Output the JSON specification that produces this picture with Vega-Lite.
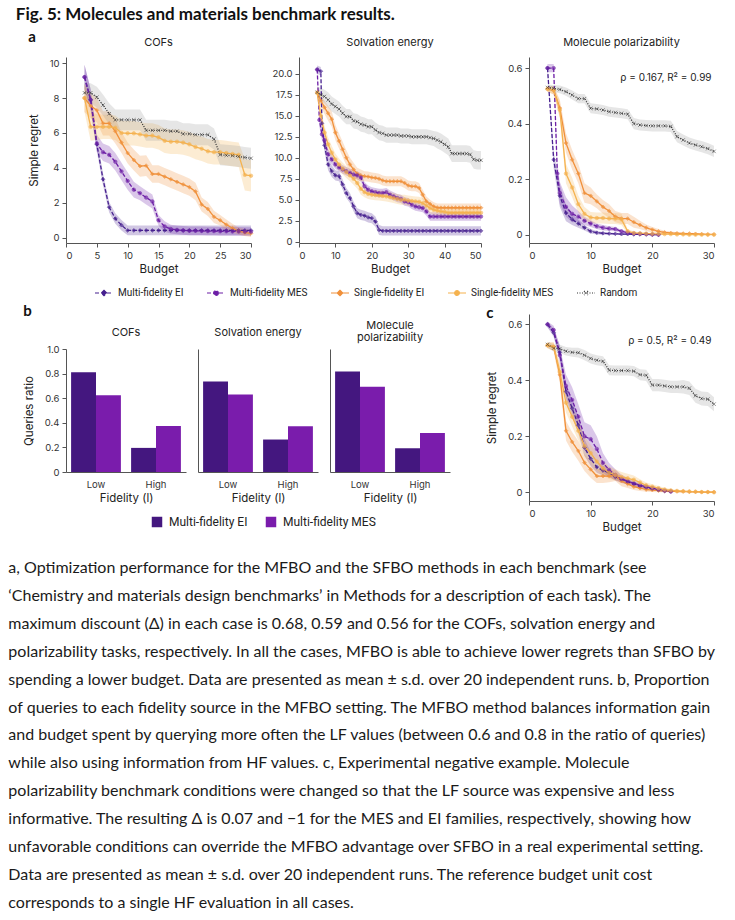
{
"$schema": "https://vega.github.io/schema/vega-lite/v6.json",
"background": "white",
"padding": {"left": 8, "top": 6, "right": 5, "bottom": 4},
"title": {"text": [
"a, Optimization performance for the MFBO and the SFBO methods in each benchmark (see",
"‘Chemistry and materials design benchmarks’ in Methods for a description of each task). The",
"maximum discount (Δ) in each case is 0.68, 0.59 and 0.56 for the COFs, solvation energy and",
"polarizability tasks, respectively. In all the cases, MFBO is able to achieve lower regrets than SFBO by",
"spending a lower budget. Data are presented as mean ± s.d. over 20 independent runs. b, Proportion",
"of queries to each fidelity source in the MFBO setting. The MFBO method balances information gain",
"and budget spent by querying more often the LF values (between 0.6 and 0.8 in the ratio of queries)",
"while also using information from HF values. c, Experimental negative example. Molecule",
"polarizability benchmark conditions were changed so that the LF source was expensive and less",
"informative. The resulting Δ is 0.07 and −1 for the MES and EI families, respectively, showing how",
"unfavorable conditions can override the MFBO advantage over SFBO in a real experimental setting.",
"Data are presented as mean ± s.d. over 20 independent runs. The reference budget unit cost",
"corresponds to a single HF evaluation in all cases."],
"orient": "bottom", "anchor": "start", "dx": -7.5, "offset": 27, "font": "Lato", "fontSize": 16, "fontWeight": "normal", "lineHeight": 27.9, "color": "#1a1a1a"},
"datasets": {
"cofs": [
{"m":"MFEI","x":3,"y":9.2,"e":0.7},{"m":"MFEI","x":4,"y":7.9,"e":0.6},{"m":"MFEI","x":5,"y":5.35,"e":0.4},{"m":"MFEI","x":6,"y":3.35,"e":0.35},{"m":"MFEI","x":7,"y":1.75,"e":0.3},{"m":"MFEI","x":8,"y":1.1,"e":0.3},{"m":"MFEI","x":9,"y":0.72,"e":0.3},{"m":"MFEI","x":10,"y":0.42,"e":0.28},{"m":"MFEI","x":11,"y":0.42,"e":0.28},{"m":"MFEI","x":12,"y":0.42,"e":0.28},{"m":"MFEI","x":13,"y":0.42,"e":0.28},{"m":"MFEI","x":14,"y":0.42,"e":0.28},{"m":"MFEI","x":15,"y":0.42,"e":0.28},{"m":"MFEI","x":16,"y":0.42,"e":0.28},{"m":"MFEI","x":17,"y":0.42,"e":0.28},{"m":"MFEI","x":18,"y":0.42,"e":0.28},{"m":"MFEI","x":19,"y":0.42,"e":0.28},{"m":"MFEI","x":20,"y":0.42,"e":0.28},{"m":"MFEI","x":21,"y":0.42,"e":0.28},{"m":"MFEI","x":22,"y":0.42,"e":0.28},{"m":"MFEI","x":23,"y":0.42,"e":0.28},{"m":"MFEI","x":24,"y":0.42,"e":0.28},{"m":"MFEI","x":25,"y":0.42,"e":0.28},{"m":"MFEI","x":26,"y":0.42,"e":0.28},{"m":"MFEI","x":27,"y":0.42,"e":0.28},{"m":"MFEI","x":28,"y":0.42,"e":0.28},{"m":"MFEI","x":29,"y":0.42,"e":0.28},{"m":"MFEI","x":30,"y":0.42,"e":0.28},
{"m":"MFMES","x":3,"y":9.2,"e":0.7},{"m":"MFMES","x":4,"y":7.9,"e":0.6},{"m":"MFMES","x":5,"y":5.4,"e":0.5},{"m":"MFMES","x":6,"y":4.9,"e":0.5},{"m":"MFMES","x":7,"y":4.75,"e":0.5},{"m":"MFMES","x":8,"y":4.35,"e":0.5},{"m":"MFMES","x":9,"y":3.8,"e":0.5},{"m":"MFMES","x":10,"y":3.25,"e":0.5},{"m":"MFMES","x":11,"y":2.75,"e":0.45},{"m":"MFMES","x":12,"y":2.55,"e":0.4},{"m":"MFMES","x":13,"y":2.3,"e":0.4},{"m":"MFMES","x":14,"y":2.08,"e":0.4},{"m":"MFMES","x":15,"y":1.0,"e":0.3},{"m":"MFMES","x":16,"y":0.65,"e":0.3},{"m":"MFMES","x":17,"y":0.5,"e":0.25},{"m":"MFMES","x":18,"y":0.45,"e":0.25},{"m":"MFMES","x":19,"y":0.42,"e":0.25},{"m":"MFMES","x":20,"y":0.4,"e":0.25},{"m":"MFMES","x":21,"y":0.4,"e":0.25},{"m":"MFMES","x":22,"y":0.39,"e":0.25},{"m":"MFMES","x":23,"y":0.38,"e":0.25},{"m":"MFMES","x":24,"y":0.38,"e":0.25},{"m":"MFMES","x":25,"y":0.37,"e":0.25},{"m":"MFMES","x":26,"y":0.37,"e":0.25},{"m":"MFMES","x":27,"y":0.36,"e":0.25},{"m":"MFMES","x":28,"y":0.36,"e":0.25},{"m":"MFMES","x":29,"y":0.35,"e":0.25},{"m":"MFMES","x":30,"y":0.35,"e":0.25},
{"m":"SFEI","x":3,"y":8.0,"e":0.8},{"m":"SFEI","x":4,"y":7.55,"e":0.7},{"m":"SFEI","x":5,"y":7.3,"e":0.7},{"m":"SFEI","x":6,"y":6.55,"e":0.7},{"m":"SFEI","x":7,"y":6.55,"e":0.7},{"m":"SFEI","x":8,"y":6.1,"e":0.7},{"m":"SFEI","x":9,"y":5.45,"e":0.6},{"m":"SFEI","x":10,"y":4.85,"e":0.6},{"m":"SFEI","x":11,"y":4.45,"e":0.6},{"m":"SFEI","x":12,"y":4.1,"e":0.6},{"m":"SFEI","x":13,"y":4.13,"e":0.6},{"m":"SFEI","x":14,"y":3.65,"e":0.5},{"m":"SFEI","x":15,"y":3.65,"e":0.5},{"m":"SFEI","x":16,"y":3.5,"e":0.5},{"m":"SFEI","x":17,"y":3.35,"e":0.5},{"m":"SFEI","x":18,"y":3.2,"e":0.5},{"m":"SFEI","x":19,"y":3.05,"e":0.5},{"m":"SFEI","x":20,"y":2.9,"e":0.5},{"m":"SFEI","x":21,"y":2.65,"e":0.5},{"m":"SFEI","x":22,"y":1.9,"e":0.4},{"m":"SFEI","x":23,"y":1.65,"e":0.4},{"m":"SFEI","x":24,"y":1.2,"e":0.35},{"m":"SFEI","x":25,"y":1.0,"e":0.3},{"m":"SFEI","x":26,"y":0.75,"e":0.3},{"m":"SFEI","x":27,"y":0.55,"e":0.25},{"m":"SFEI","x":28,"y":0.38,"e":0.2},{"m":"SFEI","x":29,"y":0.3,"e":0.2},{"m":"SFEI","x":30,"y":0.25,"e":0.2},
{"m":"SFMES","x":3,"y":8.0,"e":0.8},{"m":"SFMES","x":4,"y":6.35,"e":0.8},{"m":"SFMES","x":5,"y":6.35,"e":0.75},{"m":"SFMES","x":6,"y":6.35,"e":0.7},{"m":"SFMES","x":7,"y":6.35,"e":0.7},{"m":"SFMES","x":8,"y":6.3,"e":0.7},{"m":"SFMES","x":9,"y":6.0,"e":0.7},{"m":"SFMES","x":10,"y":5.98,"e":0.7},{"m":"SFMES","x":11,"y":5.98,"e":0.7},{"m":"SFMES","x":12,"y":5.92,"e":0.7},{"m":"SFMES","x":13,"y":5.85,"e":0.7},{"m":"SFMES","x":14,"y":5.85,"e":0.7},{"m":"SFMES","x":15,"y":5.75,"e":0.7},{"m":"SFMES","x":16,"y":5.55,"e":0.7},{"m":"SFMES","x":17,"y":5.5,"e":0.7},{"m":"SFMES","x":18,"y":5.5,"e":0.7},{"m":"SFMES","x":19,"y":5.45,"e":0.7},{"m":"SFMES","x":20,"y":5.35,"e":0.7},{"m":"SFMES","x":21,"y":5.2,"e":0.7},{"m":"SFMES","x":22,"y":5.1,"e":0.7},{"m":"SFMES","x":23,"y":4.95,"e":0.7},{"m":"SFMES","x":24,"y":4.9,"e":0.7},{"m":"SFMES","x":25,"y":4.9,"e":0.7},{"m":"SFMES","x":26,"y":4.85,"e":0.7},{"m":"SFMES","x":27,"y":4.8,"e":0.7},{"m":"SFMES","x":28,"y":4.75,"e":0.7},{"m":"SFMES","x":29,"y":3.6,"e":0.9},{"m":"SFMES","x":30,"y":3.55,"e":0.9},
{"m":"RND","x":3,"y":8.3,"e":0.55},{"m":"RND","x":4,"y":8.3,"e":0.55},{"m":"RND","x":5,"y":8.05,"e":0.6},{"m":"RND","x":6,"y":7.6,"e":0.6},{"m":"RND","x":7,"y":7.1,"e":0.6},{"m":"RND","x":8,"y":6.75,"e":0.6},{"m":"RND","x":9,"y":6.75,"e":0.6},{"m":"RND","x":10,"y":6.75,"e":0.6},{"m":"RND","x":11,"y":6.75,"e":0.6},{"m":"RND","x":12,"y":6.75,"e":0.6},{"m":"RND","x":13,"y":6.15,"e":0.6},{"m":"RND","x":14,"y":6.15,"e":0.6},{"m":"RND","x":15,"y":6.15,"e":0.6},{"m":"RND","x":16,"y":6.15,"e":0.6},{"m":"RND","x":17,"y":6.1,"e":0.6},{"m":"RND","x":18,"y":6.1,"e":0.6},{"m":"RND","x":19,"y":5.95,"e":0.6},{"m":"RND","x":20,"y":5.95,"e":0.6},{"m":"RND","x":21,"y":5.9,"e":0.6},{"m":"RND","x":22,"y":5.9,"e":0.6},{"m":"RND","x":23,"y":5.9,"e":0.6},{"m":"RND","x":24,"y":5.65,"e":0.6},{"m":"RND","x":25,"y":4.75,"e":0.6},{"m":"RND","x":26,"y":4.72,"e":0.6},{"m":"RND","x":27,"y":4.7,"e":0.6},{"m":"RND","x":28,"y":4.65,"e":0.6},{"m":"RND","x":29,"y":4.6,"e":0.6},{"m":"RND","x":30,"y":4.55,"e":0.6}
],
"solv": [
{"m":"MFEI","x":5,"y":20.5,"e":0.5},{"m":"MFEI","x":6,"y":20.3,"e":0.5},{"m":"MFEI","x":6.3,"y":14.1,"e":0.8},{"m":"MFEI","x":7,"y":11.5,"e":0.8},{"m":"MFEI","x":8,"y":9.2,"e":0.7},{"m":"MFEI","x":9,"y":8.4,"e":0.7},{"m":"MFEI","x":10,"y":7.9,"e":0.6},{"m":"MFEI","x":11,"y":7.8,"e":0.6},{"m":"MFEI","x":12,"y":6.8,"e":0.6},{"m":"MFEI","x":13,"y":5.8,"e":0.6},{"m":"MFEI","x":14,"y":5.2,"e":0.6},{"m":"MFEI","x":15,"y":4.2,"e":0.6},{"m":"MFEI","x":16,"y":3.4,"e":0.6},{"m":"MFEI","x":17,"y":3.2,"e":0.6},{"m":"MFEI","x":18,"y":3.1,"e":0.6},{"m":"MFEI","x":19,"y":2.9,"e":0.6},{"m":"MFEI","x":20,"y":2.8,"e":0.6},{"m":"MFEI","x":21,"y":2.4,"e":0.6},{"m":"MFEI","x":22,"y":1.4,"e":0.6},{"m":"MFEI","x":23,"y":1.3,"e":0.55},{"m":"MFEI","x":24,"y":1.3,"e":0.55},{"m":"MFEI","x":25,"y":1.3,"e":0.55},{"m":"MFEI","x":26,"y":1.3,"e":0.55},{"m":"MFEI","x":27,"y":1.3,"e":0.55},{"m":"MFEI","x":28,"y":1.3,"e":0.55},{"m":"MFEI","x":29,"y":1.3,"e":0.55},{"m":"MFEI","x":30,"y":1.3,"e":0.55},{"m":"MFEI","x":31,"y":1.3,"e":0.55},{"m":"MFEI","x":32,"y":1.3,"e":0.55},{"m":"MFEI","x":33,"y":1.3,"e":0.55},{"m":"MFEI","x":34,"y":1.3,"e":0.55},{"m":"MFEI","x":35,"y":1.3,"e":0.55},{"m":"MFEI","x":36,"y":1.3,"e":0.55},{"m":"MFEI","x":37,"y":1.3,"e":0.55},{"m":"MFEI","x":38,"y":1.3,"e":0.55},{"m":"MFEI","x":39,"y":1.3,"e":0.55},{"m":"MFEI","x":40,"y":1.3,"e":0.55},{"m":"MFEI","x":41,"y":1.3,"e":0.55},{"m":"MFEI","x":42,"y":1.3,"e":0.55},{"m":"MFEI","x":43,"y":1.3,"e":0.55},{"m":"MFEI","x":44,"y":1.3,"e":0.55},{"m":"MFEI","x":45,"y":1.3,"e":0.55},{"m":"MFEI","x":46,"y":1.3,"e":0.55},{"m":"MFEI","x":47,"y":1.3,"e":0.55},{"m":"MFEI","x":48,"y":1.3,"e":0.55},{"m":"MFEI","x":49,"y":1.3,"e":0.55},{"m":"MFEI","x":50,"y":1.3,"e":0.55},
{"m":"MFMES","x":5,"y":20.5,"e":0.5},{"m":"MFMES","x":5.6,"y":14.5,"e":0.8},{"m":"MFMES","x":6.3,"y":12.8,"e":0.7},{"m":"MFMES","x":7,"y":12.1,"e":0.6},{"m":"MFMES","x":8,"y":10.4,"e":0.6},{"m":"MFMES","x":9,"y":9.8,"e":0.6},{"m":"MFMES","x":10,"y":9.2,"e":0.5},{"m":"MFMES","x":11,"y":8.85,"e":0.5},{"m":"MFMES","x":12,"y":8.6,"e":0.5},{"m":"MFMES","x":13,"y":8.4,"e":0.5},{"m":"MFMES","x":14,"y":8.2,"e":0.5},{"m":"MFMES","x":15,"y":8.0,"e":0.5},{"m":"MFMES","x":16,"y":7.9,"e":0.5},{"m":"MFMES","x":17,"y":7.65,"e":0.5},{"m":"MFMES","x":18,"y":6.6,"e":0.5},{"m":"MFMES","x":19,"y":6.2,"e":0.5},{"m":"MFMES","x":20,"y":6.0,"e":0.5},{"m":"MFMES","x":21,"y":5.9,"e":0.5},{"m":"MFMES","x":22,"y":5.8,"e":0.5},{"m":"MFMES","x":23,"y":5.8,"e":0.5},{"m":"MFMES","x":24,"y":5.9,"e":0.5},{"m":"MFMES","x":25,"y":5.6,"e":0.5},{"m":"MFMES","x":26,"y":5.4,"e":0.5},{"m":"MFMES","x":27,"y":5.2,"e":0.5},{"m":"MFMES","x":28,"y":5.1,"e":0.5},{"m":"MFMES","x":29,"y":4.8,"e":0.5},{"m":"MFMES","x":30,"y":4.7,"e":0.5},{"m":"MFMES","x":31,"y":4.4,"e":0.5},{"m":"MFMES","x":32,"y":4.2,"e":0.5},{"m":"MFMES","x":33,"y":4.1,"e":0.5},{"m":"MFMES","x":34,"y":4.0,"e":0.5},{"m":"MFMES","x":35,"y":3.6,"e":0.5},{"m":"MFMES","x":36,"y":3.0,"e":0.5},{"m":"MFMES","x":37,"y":3.0,"e":0.5},{"m":"MFMES","x":38,"y":3.0,"e":0.5},{"m":"MFMES","x":39,"y":3.0,"e":0.5},{"m":"MFMES","x":40,"y":3.0,"e":0.5},{"m":"MFMES","x":41,"y":3.0,"e":0.5},{"m":"MFMES","x":42,"y":3.0,"e":0.5},{"m":"MFMES","x":43,"y":3.0,"e":0.5},{"m":"MFMES","x":44,"y":3.0,"e":0.5},{"m":"MFMES","x":45,"y":3.0,"e":0.5},{"m":"MFMES","x":46,"y":3.0,"e":0.5},{"m":"MFMES","x":47,"y":3.0,"e":0.5},{"m":"MFMES","x":48,"y":3.0,"e":0.5},{"m":"MFMES","x":49,"y":3.0,"e":0.5},{"m":"MFMES","x":50,"y":3.0,"e":0.5},
{"m":"SFEI","x":5,"y":17.8,"e":0.6},{"m":"SFEI","x":6,"y":16.8,"e":0.7},{"m":"SFEI","x":7,"y":16.0,"e":0.8},{"m":"SFEI","x":8,"y":15.3,"e":0.9},{"m":"SFEI","x":9,"y":14.6,"e":0.9},{"m":"SFEI","x":10,"y":13.0,"e":0.9},{"m":"SFEI","x":11,"y":12.0,"e":0.9},{"m":"SFEI","x":12,"y":11.0,"e":0.9},{"m":"SFEI","x":13,"y":10.0,"e":0.9},{"m":"SFEI","x":14,"y":9.2,"e":0.8},{"m":"SFEI","x":15,"y":8.6,"e":0.8},{"m":"SFEI","x":16,"y":8.1,"e":0.7},{"m":"SFEI","x":17,"y":7.9,"e":0.7},{"m":"SFEI","x":18,"y":7.8,"e":0.6},{"m":"SFEI","x":19,"y":7.75,"e":0.6},{"m":"SFEI","x":20,"y":7.65,"e":0.6},{"m":"SFEI","x":21,"y":7.6,"e":0.6},{"m":"SFEI","x":22,"y":7.5,"e":0.6},{"m":"SFEI","x":23,"y":7.3,"e":0.6},{"m":"SFEI","x":24,"y":7.2,"e":0.6},{"m":"SFEI","x":25,"y":7.2,"e":0.6},{"m":"SFEI","x":26,"y":7.2,"e":0.6},{"m":"SFEI","x":27,"y":7.2,"e":0.6},{"m":"SFEI","x":28,"y":7.2,"e":0.6},{"m":"SFEI","x":29,"y":7.0,"e":0.6},{"m":"SFEI","x":30,"y":6.7,"e":0.6},{"m":"SFEI","x":31,"y":6.6,"e":0.6},{"m":"SFEI","x":32,"y":6.6,"e":0.6},{"m":"SFEI","x":33,"y":6.4,"e":0.6},{"m":"SFEI","x":34,"y":5.6,"e":0.6},{"m":"SFEI","x":35,"y":4.8,"e":0.6},{"m":"SFEI","x":36,"y":4.5,"e":0.5},{"m":"SFEI","x":37,"y":4.2,"e":0.5},{"m":"SFEI","x":38,"y":4.05,"e":0.5},{"m":"SFEI","x":39,"y":4.05,"e":0.5},{"m":"SFEI","x":40,"y":4.05,"e":0.5},{"m":"SFEI","x":41,"y":4.05,"e":0.5},{"m":"SFEI","x":42,"y":4.05,"e":0.5},{"m":"SFEI","x":43,"y":4.05,"e":0.5},{"m":"SFEI","x":44,"y":4.05,"e":0.5},{"m":"SFEI","x":45,"y":4.05,"e":0.5},{"m":"SFEI","x":46,"y":4.05,"e":0.5},{"m":"SFEI","x":47,"y":4.05,"e":0.5},{"m":"SFEI","x":48,"y":4.05,"e":0.5},{"m":"SFEI","x":49,"y":4.05,"e":0.5},{"m":"SFEI","x":50,"y":4.05,"e":0.5},
{"m":"SFMES","x":5,"y":17.7,"e":0.6},{"m":"SFMES","x":6,"y":15.0,"e":0.8},{"m":"SFMES","x":7,"y":13.0,"e":0.8},{"m":"SFMES","x":8,"y":11.6,"e":0.8},{"m":"SFMES","x":9,"y":10.6,"e":0.8},{"m":"SFMES","x":10,"y":9.8,"e":0.7},{"m":"SFMES","x":11,"y":9.2,"e":0.7},{"m":"SFMES","x":12,"y":8.7,"e":0.7},{"m":"SFMES","x":13,"y":8.3,"e":0.7},{"m":"SFMES","x":14,"y":7.9,"e":0.7},{"m":"SFMES","x":15,"y":7.5,"e":0.7},{"m":"SFMES","x":16,"y":7.0,"e":0.7},{"m":"SFMES","x":17,"y":6.3,"e":0.7},{"m":"SFMES","x":18,"y":5.9,"e":0.6},{"m":"SFMES","x":19,"y":5.7,"e":0.6},{"m":"SFMES","x":20,"y":5.6,"e":0.6},{"m":"SFMES","x":21,"y":5.55,"e":0.6},{"m":"SFMES","x":22,"y":5.5,"e":0.6},{"m":"SFMES","x":23,"y":5.45,"e":0.6},{"m":"SFMES","x":24,"y":5.4,"e":0.6},{"m":"SFMES","x":25,"y":5.3,"e":0.6},{"m":"SFMES","x":26,"y":5.2,"e":0.6},{"m":"SFMES","x":27,"y":5.1,"e":0.6},{"m":"SFMES","x":28,"y":5.0,"e":0.6},{"m":"SFMES","x":29,"y":5.0,"e":0.6},{"m":"SFMES","x":30,"y":4.9,"e":0.6},{"m":"SFMES","x":31,"y":4.85,"e":0.6},{"m":"SFMES","x":32,"y":4.8,"e":0.6},{"m":"SFMES","x":33,"y":4.75,"e":0.6},{"m":"SFMES","x":34,"y":4.6,"e":0.6},{"m":"SFMES","x":35,"y":4.3,"e":0.6},{"m":"SFMES","x":36,"y":4.0,"e":0.6},{"m":"SFMES","x":37,"y":3.8,"e":0.6},{"m":"SFMES","x":38,"y":3.7,"e":0.6},{"m":"SFMES","x":39,"y":3.6,"e":0.6},{"m":"SFMES","x":40,"y":3.55,"e":0.6},{"m":"SFMES","x":41,"y":3.45,"e":0.6},{"m":"SFMES","x":42,"y":3.45,"e":0.6},{"m":"SFMES","x":43,"y":3.45,"e":0.6},{"m":"SFMES","x":44,"y":3.45,"e":0.6},{"m":"SFMES","x":45,"y":3.45,"e":0.6},{"m":"SFMES","x":46,"y":3.45,"e":0.6},{"m":"SFMES","x":47,"y":3.45,"e":0.6},{"m":"SFMES","x":48,"y":3.45,"e":0.6},{"m":"SFMES","x":49,"y":3.45,"e":0.6},{"m":"SFMES","x":50,"y":3.45,"e":0.6},
{"m":"RND","x":5,"y":17.8,"e":0.7},{"m":"RND","x":6,"y":17.5,"e":0.8},{"m":"RND","x":7,"y":17.3,"e":0.8},{"m":"RND","x":8,"y":16.9,"e":0.9},{"m":"RND","x":9,"y":16.4,"e":0.9},{"m":"RND","x":10,"y":16.1,"e":0.9},{"m":"RND","x":11,"y":15.8,"e":0.9},{"m":"RND","x":12,"y":15.3,"e":0.9},{"m":"RND","x":13,"y":14.9,"e":0.9},{"m":"RND","x":14,"y":14.9,"e":0.9},{"m":"RND","x":15,"y":14.4,"e":0.9},{"m":"RND","x":16,"y":14.3,"e":0.9},{"m":"RND","x":17,"y":14.0,"e":0.9},{"m":"RND","x":18,"y":13.9,"e":0.9},{"m":"RND","x":19,"y":13.7,"e":0.9},{"m":"RND","x":20,"y":13.7,"e":0.9},{"m":"RND","x":21,"y":13.3,"e":0.9},{"m":"RND","x":22,"y":13.0,"e":0.9},{"m":"RND","x":23,"y":12.9,"e":0.9},{"m":"RND","x":24,"y":12.7,"e":0.9},{"m":"RND","x":25,"y":12.7,"e":0.9},{"m":"RND","x":26,"y":12.7,"e":0.9},{"m":"RND","x":27,"y":12.7,"e":0.9},{"m":"RND","x":28,"y":12.6,"e":0.9},{"m":"RND","x":29,"y":12.6,"e":0.9},{"m":"RND","x":30,"y":12.6,"e":0.9},{"m":"RND","x":31,"y":12.5,"e":0.9},{"m":"RND","x":32,"y":12.5,"e":0.9},{"m":"RND","x":33,"y":12.5,"e":0.9},{"m":"RND","x":34,"y":12.5,"e":0.9},{"m":"RND","x":35,"y":12.5,"e":0.9},{"m":"RND","x":36,"y":12.4,"e":0.9},{"m":"RND","x":37,"y":12.3,"e":0.9},{"m":"RND","x":38,"y":12.1,"e":1.0},{"m":"RND","x":39,"y":11.9,"e":1.0},{"m":"RND","x":40,"y":11.6,"e":1.0},{"m":"RND","x":41,"y":11.3,"e":1.0},{"m":"RND","x":42,"y":10.5,"e":1.0},{"m":"RND","x":43,"y":10.5,"e":1.0},{"m":"RND","x":44,"y":10.5,"e":1.0},{"m":"RND","x":45,"y":10.5,"e":1.0},{"m":"RND","x":46,"y":10.5,"e":1.0},{"m":"RND","x":47,"y":10.4,"e":1.0},{"m":"RND","x":48,"y":9.8,"e":1.1},{"m":"RND","x":49,"y":9.7,"e":1.1},{"m":"RND","x":50,"y":9.7,"e":1.1}
],
"polar": [
{"m":"MFEI","x":3,"y":0.6,"e":0.015},{"m":"MFEI","x":4,"y":0.27,"e":0.03},{"m":"MFEI","x":5,"y":0.14,"e":0.04},{"m":"MFEI","x":6,"y":0.078,"e":0.03},{"m":"MFEI","x":7,"y":0.055,"e":0.02},{"m":"MFEI","x":8,"y":0.04,"e":0.015},{"m":"MFEI","x":9,"y":0.025,"e":0.01},{"m":"MFEI","x":10,"y":0.012,"e":0.008},{"m":"MFEI","x":11,"y":0.007,"e":0.006},{"m":"MFEI","x":12,"y":0.005,"e":0.005},{"m":"MFEI","x":13,"y":0.004,"e":0.004},{"m":"MFEI","x":14,"y":0.003,"e":0.003},{"m":"MFEI","x":15,"y":0.002,"e":0.003},{"m":"MFEI","x":16,"y":0.002,"e":0.002},{"m":"MFEI","x":17,"y":0.001,"e":0.002},{"m":"MFEI","x":18,"y":0.001,"e":0.002},{"m":"MFEI","x":19,"y":0.001,"e":0.001},{"m":"MFEI","x":20,"y":0,"e":0.001},{"m":"MFEI","x":21,"y":0,"e":0.001},
{"m":"MFMES","x":3,"y":0.6,"e":0.015},{"m":"MFMES","x":4,"y":0.6,"e":0.015},{"m":"MFMES","x":4.6,"y":0.22,"e":0.04},{"m":"MFMES","x":5,"y":0.15,"e":0.04},{"m":"MFMES","x":6,"y":0.1,"e":0.035},{"m":"MFMES","x":7,"y":0.075,"e":0.03},{"m":"MFMES","x":8,"y":0.065,"e":0.02},{"m":"MFMES","x":9,"y":0.05,"e":0.015},{"m":"MFMES","x":10,"y":0.04,"e":0.012},{"m":"MFMES","x":11,"y":0.03,"e":0.01},{"m":"MFMES","x":12,"y":0.025,"e":0.01},{"m":"MFMES","x":13,"y":0.022,"e":0.008},{"m":"MFMES","x":14,"y":0.02,"e":0.008},{"m":"MFMES","x":15,"y":0.012,"e":0.006},{"m":"MFMES","x":16,"y":0.007,"e":0.005},{"m":"MFMES","x":17,"y":0.004,"e":0.004},{"m":"MFMES","x":18,"y":0.003,"e":0.003},{"m":"MFMES","x":19,"y":0.002,"e":0.002},{"m":"MFMES","x":20,"y":0.001,"e":0.002},{"m":"MFMES","x":21,"y":0,"e":0.001},
{"m":"SFEI","x":3,"y":0.525,"e":0.01},{"m":"SFEI","x":4,"y":0.52,"e":0.015},{"m":"SFEI","x":5,"y":0.456,"e":0.03},{"m":"SFEI","x":6,"y":0.33,"e":0.035},{"m":"SFEI","x":7,"y":0.27,"e":0.035},{"m":"SFEI","x":8,"y":0.22,"e":0.035},{"m":"SFEI","x":9,"y":0.15,"e":0.035},{"m":"SFEI","x":10,"y":0.14,"e":0.03},{"m":"SFEI","x":11,"y":0.12,"e":0.025},{"m":"SFEI","x":12,"y":0.1,"e":0.025},{"m":"SFEI","x":13,"y":0.085,"e":0.025},{"m":"SFEI","x":14,"y":0.065,"e":0.02},{"m":"SFEI","x":15,"y":0.058,"e":0.02},{"m":"SFEI","x":16,"y":0.058,"e":0.02},{"m":"SFEI","x":17,"y":0.045,"e":0.02},{"m":"SFEI","x":18,"y":0.035,"e":0.015},{"m":"SFEI","x":19,"y":0.025,"e":0.012},{"m":"SFEI","x":20,"y":0.018,"e":0.01},{"m":"SFEI","x":21,"y":0.012,"e":0.008},{"m":"SFEI","x":22,"y":0.008,"e":0.006},{"m":"SFEI","x":23,"y":0.006,"e":0.005},{"m":"SFEI","x":24,"y":0.005,"e":0.004},{"m":"SFEI","x":25,"y":0.004,"e":0.004},{"m":"SFEI","x":26,"y":0.004,"e":0.003},{"m":"SFEI","x":27,"y":0.003,"e":0.003},{"m":"SFEI","x":28,"y":0.002,"e":0.002},{"m":"SFEI","x":29,"y":0.001,"e":0.002},{"m":"SFEI","x":30,"y":0.001,"e":0.002},
{"m":"SFMES","x":3,"y":0.525,"e":0.01},{"m":"SFMES","x":4,"y":0.52,"e":0.015},{"m":"SFMES","x":5,"y":0.45,"e":0.03},{"m":"SFMES","x":6,"y":0.22,"e":0.035},{"m":"SFMES","x":7,"y":0.17,"e":0.035},{"m":"SFMES","x":8,"y":0.11,"e":0.03},{"m":"SFMES","x":9,"y":0.075,"e":0.025},{"m":"SFMES","x":10,"y":0.062,"e":0.02},{"m":"SFMES","x":11,"y":0.06,"e":0.02},{"m":"SFMES","x":12,"y":0.06,"e":0.02},{"m":"SFMES","x":13,"y":0.058,"e":0.02},{"m":"SFMES","x":14,"y":0.058,"e":0.02},{"m":"SFMES","x":15,"y":0.055,"e":0.02},{"m":"SFMES","x":16,"y":0.012,"e":0.008},{"m":"SFMES","x":17,"y":0.006,"e":0.005},{"m":"SFMES","x":18,"y":0.005,"e":0.004},{"m":"SFMES","x":19,"y":0.004,"e":0.003},{"m":"SFMES","x":20,"y":0.003,"e":0.003},{"m":"SFMES","x":21,"y":0.003,"e":0.002},{"m":"SFMES","x":22,"y":0.002,"e":0.002},{"m":"SFMES","x":23,"y":0.002,"e":0.002},{"m":"SFMES","x":24,"y":0.001,"e":0.001},{"m":"SFMES","x":25,"y":0.001,"e":0.001},{"m":"SFMES","x":26,"y":0,"e":0.001},{"m":"SFMES","x":27,"y":0,"e":0.001},{"m":"SFMES","x":28,"y":0,"e":0.001},{"m":"SFMES","x":29,"y":0,"e":0.001},{"m":"SFMES","x":30,"y":0,"e":0.001},
{"m":"RND","x":3,"y":0.53,"e":0.01},{"m":"RND","x":4,"y":0.527,"e":0.012},{"m":"RND","x":5,"y":0.523,"e":0.014},{"m":"RND","x":6,"y":0.515,"e":0.015},{"m":"RND","x":7,"y":0.503,"e":0.016},{"m":"RND","x":8,"y":0.49,"e":0.017},{"m":"RND","x":9,"y":0.49,"e":0.017},{"m":"RND","x":10,"y":0.455,"e":0.018},{"m":"RND","x":11,"y":0.453,"e":0.018},{"m":"RND","x":12,"y":0.449,"e":0.018},{"m":"RND","x":13,"y":0.443,"e":0.018},{"m":"RND","x":14,"y":0.44,"e":0.018},{"m":"RND","x":15,"y":0.437,"e":0.018},{"m":"RND","x":16,"y":0.434,"e":0.018},{"m":"RND","x":17,"y":0.4,"e":0.02},{"m":"RND","x":18,"y":0.395,"e":0.02},{"m":"RND","x":19,"y":0.393,"e":0.02},{"m":"RND","x":20,"y":0.392,"e":0.02},{"m":"RND","x":21,"y":0.392,"e":0.02},{"m":"RND","x":22,"y":0.392,"e":0.02},{"m":"RND","x":23,"y":0.39,"e":0.02},{"m":"RND","x":24,"y":0.353,"e":0.02},{"m":"RND","x":25,"y":0.341,"e":0.02},{"m":"RND","x":26,"y":0.33,"e":0.02},{"m":"RND","x":27,"y":0.323,"e":0.02},{"m":"RND","x":28,"y":0.317,"e":0.02},{"m":"RND","x":29,"y":0.31,"e":0.02},{"m":"RND","x":30,"y":0.3,"e":0.02}
],
"neg": [
{"m":"MFEI","x":3,"y":0.6,"e":0.01},{"m":"MFEI","x":4,"y":0.57,"e":0.015},{"m":"MFEI","x":5,"y":0.5,"e":0.025},{"m":"MFEI","x":6,"y":0.36,"e":0.03},{"m":"MFEI","x":7,"y":0.3,"e":0.03},{"m":"MFEI","x":8,"y":0.24,"e":0.03},{"m":"MFEI","x":9,"y":0.16,"e":0.03},{"m":"MFEI","x":10,"y":0.12,"e":0.025},{"m":"MFEI","x":11,"y":0.09,"e":0.02},{"m":"MFEI","x":12,"y":0.078,"e":0.018},{"m":"MFEI","x":13,"y":0.07,"e":0.015},{"m":"MFEI","x":14,"y":0.055,"e":0.012},{"m":"MFEI","x":15,"y":0.047,"e":0.01},{"m":"MFEI","x":16,"y":0.037,"e":0.01},{"m":"MFEI","x":17,"y":0.03,"e":0.008},{"m":"MFEI","x":18,"y":0.022,"e":0.007},{"m":"MFEI","x":19,"y":0.017,"e":0.006},{"m":"MFEI","x":20,"y":0.012,"e":0.005},{"m":"MFEI","x":21,"y":0.008,"e":0.004},{"m":"MFEI","x":22,"y":0.005,"e":0.003},{"m":"MFEI","x":23,"y":0.003,"e":0.002},
{"m":"MFMES","x":3,"y":0.6,"e":0.01},{"m":"MFMES","x":4,"y":0.58,"e":0.015},{"m":"MFMES","x":5,"y":0.49,"e":0.03},{"m":"MFMES","x":6,"y":0.38,"e":0.04},{"m":"MFMES","x":7,"y":0.33,"e":0.045},{"m":"MFMES","x":8,"y":0.27,"e":0.045},{"m":"MFMES","x":9,"y":0.2,"e":0.05},{"m":"MFMES","x":10,"y":0.19,"e":0.05},{"m":"MFMES","x":11,"y":0.155,"e":0.045},{"m":"MFMES","x":12,"y":0.105,"e":0.035},{"m":"MFMES","x":13,"y":0.08,"e":0.025},{"m":"MFMES","x":14,"y":0.062,"e":0.02},{"m":"MFMES","x":15,"y":0.048,"e":0.015},{"m":"MFMES","x":16,"y":0.04,"e":0.012},{"m":"MFMES","x":17,"y":0.032,"e":0.01},{"m":"MFMES","x":18,"y":0.025,"e":0.008},{"m":"MFMES","x":19,"y":0.02,"e":0.007},{"m":"MFMES","x":20,"y":0.015,"e":0.006},{"m":"MFMES","x":21,"y":0.01,"e":0.005},{"m":"MFMES","x":22,"y":0.006,"e":0.004},{"m":"MFMES","x":23,"y":0.003,"e":0.003},
{"m":"SFEI","x":3,"y":0.525,"e":0.01},{"m":"SFEI","x":4,"y":0.52,"e":0.015},{"m":"SFEI","x":5,"y":0.42,"e":0.03},{"m":"SFEI","x":6,"y":0.22,"e":0.035},{"m":"SFEI","x":7,"y":0.18,"e":0.035},{"m":"SFEI","x":8,"y":0.148,"e":0.035},{"m":"SFEI","x":9,"y":0.106,"e":0.03},{"m":"SFEI","x":10,"y":0.082,"e":0.03},{"m":"SFEI","x":11,"y":0.058,"e":0.025},{"m":"SFEI","x":12,"y":0.058,"e":0.025},{"m":"SFEI","x":13,"y":0.058,"e":0.022},{"m":"SFEI","x":14,"y":0.06,"e":0.02},{"m":"SFEI","x":15,"y":0.04,"e":0.018},{"m":"SFEI","x":16,"y":0.03,"e":0.015},{"m":"SFEI","x":17,"y":0.02,"e":0.012},{"m":"SFEI","x":18,"y":0.015,"e":0.01},{"m":"SFEI","x":19,"y":0.01,"e":0.008},{"m":"SFEI","x":20,"y":0.008,"e":0.007},{"m":"SFEI","x":21,"y":0.006,"e":0.006},{"m":"SFEI","x":22,"y":0.005,"e":0.005},{"m":"SFEI","x":23,"y":0.004,"e":0.004},{"m":"SFEI","x":24,"y":0.003,"e":0.003},{"m":"SFEI","x":25,"y":0.003,"e":0.003},{"m":"SFEI","x":26,"y":0.002,"e":0.002},{"m":"SFEI","x":27,"y":0.002,"e":0.002},{"m":"SFEI","x":28,"y":0.001,"e":0.002},{"m":"SFEI","x":29,"y":0.001,"e":0.001},{"m":"SFEI","x":30,"y":0.001,"e":0.001},
{"m":"SFMES","x":3,"y":0.525,"e":0.01},{"m":"SFMES","x":4,"y":0.52,"e":0.015},{"m":"SFMES","x":5,"y":0.43,"e":0.03},{"m":"SFMES","x":6,"y":0.32,"e":0.035},{"m":"SFMES","x":7,"y":0.27,"e":0.035},{"m":"SFMES","x":8,"y":0.22,"e":0.035},{"m":"SFMES","x":9,"y":0.165,"e":0.035},{"m":"SFMES","x":10,"y":0.14,"e":0.03},{"m":"SFMES","x":11,"y":0.11,"e":0.03},{"m":"SFMES","x":12,"y":0.085,"e":0.025},{"m":"SFMES","x":13,"y":0.07,"e":0.022},{"m":"SFMES","x":14,"y":0.062,"e":0.02},{"m":"SFMES","x":15,"y":0.055,"e":0.018},{"m":"SFMES","x":16,"y":0.05,"e":0.016},{"m":"SFMES","x":17,"y":0.045,"e":0.015},{"m":"SFMES","x":18,"y":0.035,"e":0.012},{"m":"SFMES","x":19,"y":0.025,"e":0.01},{"m":"SFMES","x":20,"y":0.02,"e":0.009},{"m":"SFMES","x":21,"y":0.015,"e":0.008},{"m":"SFMES","x":22,"y":0.01,"e":0.006},{"m":"SFMES","x":23,"y":0.007,"e":0.005},{"m":"SFMES","x":24,"y":0.005,"e":0.004},{"m":"SFMES","x":25,"y":0.004,"e":0.003},{"m":"SFMES","x":26,"y":0.003,"e":0.003},{"m":"SFMES","x":27,"y":0.002,"e":0.002},{"m":"SFMES","x":28,"y":0.001,"e":0.002},{"m":"SFMES","x":29,"y":0.001,"e":0.001},{"m":"SFMES","x":30,"y":0,"e":0.001},
{"m":"RND","x":3,"y":0.528,"e":0.01},{"m":"RND","x":4,"y":0.515,"e":0.012},{"m":"RND","x":5,"y":0.513,"e":0.014},{"m":"RND","x":6,"y":0.504,"e":0.015},{"m":"RND","x":7,"y":0.5,"e":0.016},{"m":"RND","x":8,"y":0.499,"e":0.017},{"m":"RND","x":9,"y":0.49,"e":0.018},{"m":"RND","x":10,"y":0.478,"e":0.018},{"m":"RND","x":11,"y":0.472,"e":0.018},{"m":"RND","x":12,"y":0.468,"e":0.018},{"m":"RND","x":13,"y":0.436,"e":0.018},{"m":"RND","x":14,"y":0.435,"e":0.018},{"m":"RND","x":15,"y":0.435,"e":0.018},{"m":"RND","x":16,"y":0.435,"e":0.018},{"m":"RND","x":17,"y":0.433,"e":0.018},{"m":"RND","x":18,"y":0.42,"e":0.02},{"m":"RND","x":19,"y":0.418,"e":0.02},{"m":"RND","x":20,"y":0.383,"e":0.022},{"m":"RND","x":21,"y":0.383,"e":0.022},{"m":"RND","x":22,"y":0.38,"e":0.022},{"m":"RND","x":23,"y":0.377,"e":0.022},{"m":"RND","x":24,"y":0.377,"e":0.022},{"m":"RND","x":25,"y":0.377,"e":0.024},{"m":"RND","x":26,"y":0.372,"e":0.024},{"m":"RND","x":27,"y":0.345,"e":0.025},{"m":"RND","x":28,"y":0.335,"e":0.025},{"m":"RND","x":29,"y":0.333,"e":0.025},{"m":"RND","x":30,"y":0.315,"e":0.025}
],
"bars": [
{"p":"COFs","f":"Low","m":"MFEI","v":0.81},{"p":"COFs","f":"Low","m":"MFMES","v":0.625},{"p":"COFs","f":"High","m":"MFEI","v":0.196},{"p":"COFs","f":"High","m":"MFMES","v":0.375},
{"p":"Solv","f":"Low","m":"MFEI","v":0.736},{"p":"Solv","f":"Low","m":"MFMES","v":0.63},{"p":"Solv","f":"High","m":"MFEI","v":0.264},{"p":"Solv","f":"High","m":"MFMES","v":0.372},
{"p":"Polar","f":"Low","m":"MFEI","v":0.818},{"p":"Polar","f":"Low","m":"MFMES","v":0.693},{"p":"Polar","f":"High","m":"MFEI","v":0.193},{"p":"Polar","f":"High","m":"MFMES","v":0.318}
],
"ann1": [{"t":"ρ = 0.167, R² = 0.99"}],
"ann2": [{"t":"ρ = 0.5, R² = 0.49"}]
},
"vconcat": [
{
"title": {"text": "Fig. 5: Molecules and materials benchmark results.", "anchor": "start", "dx": -7.5, "font": "Lato", "fontSize": 17, "fontWeight": "bold", "color": "#111111", "offset": 6},
"spacing": 1,
"hconcat": [
{"spacing": 29, "vconcat": [
{
"title": {"text": "a", "anchor": "start", "font": "Lato", "fontSize": 15, "fontWeight": "bold", "color": "#111111", "offset": -8},
"spacing": 16,
"hconcat": [
{
"width": 185, "height": 186,
"title": {"text": "COFs"},
"data": {"name": "cofs"},
"layer": [
{"transform": [{"filter": "false"}], "mark": {"type": "point", "filled": true}, "encoding": {
 "x": {"field": "x", "type": "quantitative", "scale": {"domain": [0, 30], "nice": false}, "axis": {"values": [0,5,10,15,20,25,30], "title": "Budget"}},
 "y": {"field": "y", "type": "quantitative", "scale": {"domain": [-0.3, 10.35], "nice": false, "zero": false}, "axis": {"values": [0,2,4,6,8,10], "title": "Simple regret"}},
 "shape": {"field": "m", "type": "nominal", "scale": {"domain": ["MFEI","MFMES","SFEI","SFMES","RND"], "range": ["M-1,0H1M0,-0.3L0.3,0L0,0.3L-0.3,0Z","M-1,0H1M0.26,0A0.26,0.26 0 1,1 -0.26,0A0.26,0.26 0 1,1 0.26,0Z","M-1,0H1M0,-0.3L0.3,0L0,0.3L-0.3,0Z","M-1,0H1M0.26,0A0.26,0.26 0 1,1 -0.26,0A0.26,0.26 0 1,1 0.26,0Z","M-1,0H1M-0.22,-0.22L0.22,0.22M0.22,-0.22L-0.22,0.22"]},
  "legend": {"orient": "none", "legendX": 28, "legendY": 226, "direction": "horizontal", "columns": 5, "gridAlign": "none", "title": null, "symbolSize": 324, "symbolStrokeWidth": 1.2, "symbolOpacity": 1, "labelOffset": 4, "columnPadding": 20, "labelFont": "Roboto", "labelFontSize": 10, "labelColor": "#222222",
   "labelExpr": "datum.value === 'MFEI' ? 'Multi-fidelity EI' : datum.value === 'MFMES' ? 'Multi-fidelity MES' : datum.value === 'SFEI' ? 'Single-fidelity EI' : datum.value === 'SFMES' ? 'Single-fidelity MES' : 'Random'"}}}},
{"mark": {"type": "errorband", "opacity": 0.25}, "encoding": {
 "x": {"field": "x", "type": "quantitative", "scale": {"domain": [0, 30], "nice": false}, "axis": {"values": [0,5,10,15,20,25,30], "title": "Budget"}},
 "y": {"field": "y", "type": "quantitative", "scale": {"domain": [-0.3, 10.35], "nice": false, "zero": false}, "axis": {"values": [0,2,4,6,8,10], "title": "Simple regret"}},
 "yError": {"field": "e"},
 "fill": {"field": "m", "type": "nominal", "scale": {"domain": ["MFEI","MFMES","SFEI","SFMES","RND"], "range": ["#46208f","#6d1fa6","#f0903a","#f5b24f","#9a9a9a"]}}}},
{"mark": {"type": "line", "strokeWidth": 1.3}, "encoding": {
 "x": {"field": "x", "type": "quantitative", "scale": {"domain": [0, 30], "nice": false}, "axis": {"values": [0,5,10,15,20,25,30], "title": "Budget"}},
 "y": {"field": "y", "type": "quantitative", "scale": {"domain": [-0.3, 10.35], "nice": false, "zero": false}, "axis": {"values": [0,2,4,6,8,10], "title": "Simple regret"}},
 "stroke": {"field": "m", "type": "nominal", "scale": {"domain": ["MFEI","MFMES","SFEI","SFMES","RND"], "range": ["#46208f","#6d1fa6","#f0903a","#f5b24f","#333333"]}},
 "strokeDash": {"field": "m", "type": "nominal", "scale": {"domain": ["MFEI","MFMES","SFEI","SFMES","RND"], "range": [[4,2],[4,2],[1,0],[1,0],[1,1.5]]}}}},
{"transform": [{"filter": "datum.m === 'MFEI' || datum.m === 'SFEI'"}], "mark": {"type": "point", "shape": "diamond", "filled": true, "size": 14, "strokeWidth": 0.8}, "encoding": {
 "x": {"field": "x", "type": "quantitative", "scale": {"domain": [0, 30], "nice": false}, "axis": {"values": [0,5,10,15,20,25,30], "title": "Budget"}},
 "y": {"field": "y", "type": "quantitative", "scale": {"domain": [-0.3, 10.35], "nice": false, "zero": false}, "axis": {"values": [0,2,4,6,8,10], "title": "Simple regret"}},
 "fill": {"field": "m", "type": "nominal"}, "stroke": {"field": "m", "type": "nominal"}}},
{"transform": [{"filter": "datum.m === 'MFMES' || datum.m === 'SFMES'"}], "mark": {"type": "point", "shape": "circle", "filled": true, "size": 12, "strokeWidth": 0.8}, "encoding": {
 "x": {"field": "x", "type": "quantitative", "scale": {"domain": [0, 30], "nice": false}, "axis": {"values": [0,5,10,15,20,25,30], "title": "Budget"}},
 "y": {"field": "y", "type": "quantitative", "scale": {"domain": [-0.3, 10.35], "nice": false, "zero": false}, "axis": {"values": [0,2,4,6,8,10], "title": "Simple regret"}},
 "fill": {"field": "m", "type": "nominal"}, "stroke": {"field": "m", "type": "nominal"}}},
{"transform": [{"filter": "datum.m === 'RND'"}], "mark": {"type": "point", "shape": "M-1,-1L1,1M1,-1L-1,1", "filled": true, "size": 12, "strokeWidth": 0.8}, "encoding": {
 "x": {"field": "x", "type": "quantitative", "scale": {"domain": [0, 30], "nice": false}, "axis": {"values": [0,5,10,15,20,25,30], "title": "Budget"}},
 "y": {"field": "y", "type": "quantitative", "scale": {"domain": [-0.3, 10.35], "nice": false, "zero": false}, "axis": {"values": [0,2,4,6,8,10], "title": "Simple regret"}},
 "fill": {"field": "m", "type": "nominal"}, "stroke": {"field": "m", "type": "nominal"}}}
]
},
{
"width": 182, "height": 186,
"title": {"text": "Solvation energy"},
"data": {"name": "solv"},
"layer": [
{"mark": {"type": "errorband", "opacity": 0.25}, "encoding": {
 "x": {"field": "x", "type": "quantitative", "scale": {"domain": [0, 50], "nice": false}, "axis": {"values": [0,10,20,30,40,50], "title": "Budget"}},
 "y": {"field": "y", "type": "quantitative", "scale": {"domain": [-0.15, 22], "nice": false, "zero": false}, "axis": {"values": [0,2.5,5,7.5,10,12.5,15,17.5,20], "labelExpr": "datum.value === 0 ? '0' : format(datum.value, '.1f')", "title": null}},
 "yError": {"field": "e"},
 "fill": {"field": "m", "type": "nominal"}}},
{"mark": {"type": "line", "strokeWidth": 1.3}, "encoding": {
 "x": {"field": "x", "type": "quantitative", "scale": {"domain": [0, 50], "nice": false}, "axis": {"values": [0,10,20,30,40,50], "title": "Budget"}},
 "y": {"field": "y", "type": "quantitative", "scale": {"domain": [-0.15, 22], "nice": false, "zero": false}, "axis": {"values": [0,2.5,5,7.5,10,12.5,15,17.5,20], "labelExpr": "datum.value === 0 ? '0' : format(datum.value, '.1f')", "title": null}},
 "stroke": {"field": "m", "type": "nominal"},
 "strokeDash": {"field": "m", "type": "nominal"}}},
{"transform": [{"filter": "datum.m === 'MFEI' || datum.m === 'SFEI'"}], "mark": {"type": "point", "shape": "diamond", "filled": true, "size": 14, "strokeWidth": 0.8}, "encoding": {
 "x": {"field": "x", "type": "quantitative", "scale": {"domain": [0, 50], "nice": false}, "axis": {"values": [0,10,20,30,40,50], "title": "Budget"}},
 "y": {"field": "y", "type": "quantitative", "scale": {"domain": [-0.15, 22], "nice": false, "zero": false}, "axis": {"values": [0,2.5,5,7.5,10,12.5,15,17.5,20], "labelExpr": "datum.value === 0 ? '0' : format(datum.value, '.1f')", "title": null}},
 "fill": {"field": "m", "type": "nominal"}, "stroke": {"field": "m", "type": "nominal"}}},
{"transform": [{"filter": "datum.m === 'MFMES' || datum.m === 'SFMES'"}], "mark": {"type": "point", "shape": "circle", "filled": true, "size": 12, "strokeWidth": 0.8}, "encoding": {
 "x": {"field": "x", "type": "quantitative", "scale": {"domain": [0, 50], "nice": false}, "axis": {"values": [0,10,20,30,40,50], "title": "Budget"}},
 "y": {"field": "y", "type": "quantitative", "scale": {"domain": [-0.15, 22], "nice": false, "zero": false}, "axis": {"values": [0,2.5,5,7.5,10,12.5,15,17.5,20], "labelExpr": "datum.value === 0 ? '0' : format(datum.value, '.1f')", "title": null}},
 "fill": {"field": "m", "type": "nominal"}, "stroke": {"field": "m", "type": "nominal"}}},
{"transform": [{"filter": "datum.m === 'RND'"}], "mark": {"type": "point", "shape": "M-1,-1L1,1M1,-1L-1,1", "filled": true, "size": 12, "strokeWidth": 0.8}, "encoding": {
 "x": {"field": "x", "type": "quantitative", "scale": {"domain": [0, 50], "nice": false}, "axis": {"values": [0,10,20,30,40,50], "title": "Budget"}},
 "y": {"field": "y", "type": "quantitative", "scale": {"domain": [-0.15, 22], "nice": false, "zero": false}, "axis": {"values": [0,2.5,5,7.5,10,12.5,15,17.5,20], "labelExpr": "datum.value === 0 ? '0' : format(datum.value, '.1f')", "title": null}},
 "fill": {"field": "m", "type": "nominal"}, "stroke": {"field": "m", "type": "nominal"}}}
]
}
]
},
{
"title": {"text": "b", "anchor": "start", "font": "Lato", "fontSize": 15, "fontWeight": "bold", "color": "#111111", "offset": 1},
"spacing": 12,
"hconcat": [
{
"width": 120, "height": 123,
"title": {"text": "COFs", "offset": 6},
"data": {"name": "bars"},
"transform": [{"filter": "datum.p === 'COFs'"}],
"mark": {"type": "bar"},
"encoding": {
"x": {"field": "f", "type": "nominal", "sort": ["Low","High"], "scale": {"paddingInner": 0.17, "paddingOuter": 0.085}, "axis": {"title": "Fidelity (l)", "labelAngle": 0, "ticks": false, "labelPadding": 7}},
"xOffset": {"field": "m", "type": "nominal", "sort": ["MFEI","MFMES"]},
"y": {"field": "v", "type": "quantitative", "scale": {"domain": [0, 1], "nice": false}, "axis": {"values": [0,0.2,0.4,0.6,0.8,1], "labelExpr": "datum.value === 0 ? '0' : format(datum.value, '.1f')", "title": "Queries ratio"}},
"color": {"field": "m", "type": "nominal", "scale": {"domain": ["MFEI","MFMES"], "range": ["#44177f","#7a1cac"]},
 "legend": {"orient": "none", "legendX": 85, "legendY": 459, "direction": "horizontal", "columns": 2, "gridAlign": "none", "title": null, "symbolType": "square", "symbolSize": 110, "labelFont": "Roboto", "labelFontSize": 12, "labelOffset": 6, "columnPadding": 17, "labelColor": "#222222",
  "labelExpr": "datum.value === 'MFEI' ? 'Multi-fidelity EI' : 'Multi-fidelity MES'"}}
}
},
{
"width": 120, "height": 123,
"title": {"text": "Solvation energy", "offset": 11},
"data": {"name": "bars"},
"transform": [{"filter": "datum.p === 'Solv'"}],
"mark": {"type": "bar"},
"encoding": {
"x": {"field": "f", "type": "nominal", "sort": ["Low","High"], "scale": {"paddingInner": 0.17, "paddingOuter": 0.085}, "axis": {"title": "Fidelity (l)", "labelAngle": 0, "ticks": false, "labelPadding": 7}},
"xOffset": {"field": "m", "type": "nominal", "sort": ["MFEI","MFMES"]},
"y": {"field": "v", "type": "quantitative", "scale": {"domain": [0, 1], "nice": false}, "axis": {"labels": false, "ticks": false, "title": null}},
"color": {"field": "m", "type": "nominal"}
}
},
{
"width": 120, "height": 123,
"title": {"text": ["Molecule", "polarizability"], "offset": 6, "lineHeight": 12},
"data": {"name": "bars"},
"transform": [{"filter": "datum.p === 'Polar'"}],
"mark": {"type": "bar"},
"encoding": {
"x": {"field": "f", "type": "nominal", "sort": ["Low","High"], "scale": {"paddingInner": 0.17, "paddingOuter": 0.085}, "axis": {"title": "Fidelity (l)", "labelAngle": 0, "ticks": false, "labelPadding": 7}},
"xOffset": {"field": "m", "type": "nominal", "sort": ["MFEI","MFMES"]},
"y": {"field": "v", "type": "quantitative", "scale": {"domain": [0, 1], "nice": false}, "axis": {"labels": false, "ticks": false, "title": null}},
"color": {"field": "m", "type": "nominal"}
}
}
]
}
]},
{"spacing": 31, "vconcat": [
{
"width": 185, "height": 186,
"title": {"text": "Molecule polarizability"},
"data": {"name": "polar"},
"layer": [
{"mark": {"type": "errorband", "opacity": 0.25}, "encoding": {
 "x": {"field": "x", "type": "quantitative", "scale": {"domain": [0, 30], "nice": false}, "axis": {"values": [0,5,10,15,20,25,30], "title": "Budget"}},
 "y": {"field": "y", "type": "quantitative", "scale": {"domain": [-0.03, 0.64], "nice": false, "zero": false}, "axis": {"values": [0,0.1,0.2,0.3,0.4,0.5,0.6], "labelExpr": "datum.value === 0 ? '0' : format(datum.value, '.1f')", "title": null}},
 "yError": {"field": "e"},
 "fill": {"field": "m", "type": "nominal"}}},
{"mark": {"type": "line", "strokeWidth": 1.3}, "encoding": {
 "x": {"field": "x", "type": "quantitative", "scale": {"domain": [0, 30], "nice": false}, "axis": {"values": [0,5,10,15,20,25,30], "title": "Budget"}},
 "y": {"field": "y", "type": "quantitative", "scale": {"domain": [-0.03, 0.64], "nice": false, "zero": false}, "axis": {"values": [0,0.1,0.2,0.3,0.4,0.5,0.6], "labelExpr": "datum.value === 0 ? '0' : format(datum.value, '.1f')", "title": null}},
 "stroke": {"field": "m", "type": "nominal"},
 "strokeDash": {"field": "m", "type": "nominal"}}},
{"transform": [{"filter": "datum.m === 'MFEI' || datum.m === 'SFEI'"}], "mark": {"type": "point", "shape": "diamond", "filled": true, "size": 14, "strokeWidth": 0.8}, "encoding": {
 "x": {"field": "x", "type": "quantitative", "scale": {"domain": [0, 30], "nice": false}, "axis": {"values": [0,5,10,15,20,25,30], "title": "Budget"}},
 "y": {"field": "y", "type": "quantitative", "scale": {"domain": [-0.03, 0.64], "nice": false, "zero": false}, "axis": {"values": [0,0.1,0.2,0.3,0.4,0.5,0.6], "labelExpr": "datum.value === 0 ? '0' : format(datum.value, '.1f')", "title": null}},
 "fill": {"field": "m", "type": "nominal"}, "stroke": {"field": "m", "type": "nominal"}}},
{"transform": [{"filter": "datum.m === 'MFMES' || datum.m === 'SFMES'"}], "mark": {"type": "point", "shape": "circle", "filled": true, "size": 12, "strokeWidth": 0.8}, "encoding": {
 "x": {"field": "x", "type": "quantitative", "scale": {"domain": [0, 30], "nice": false}, "axis": {"values": [0,5,10,15,20,25,30], "title": "Budget"}},
 "y": {"field": "y", "type": "quantitative", "scale": {"domain": [-0.03, 0.64], "nice": false, "zero": false}, "axis": {"values": [0,0.1,0.2,0.3,0.4,0.5,0.6], "labelExpr": "datum.value === 0 ? '0' : format(datum.value, '.1f')", "title": null}},
 "fill": {"field": "m", "type": "nominal"}, "stroke": {"field": "m", "type": "nominal"}}},
{"transform": [{"filter": "datum.m === 'RND'"}], "mark": {"type": "point", "shape": "M-1,-1L1,1M1,-1L-1,1", "filled": true, "size": 12, "strokeWidth": 0.8}, "encoding": {
 "x": {"field": "x", "type": "quantitative", "scale": {"domain": [0, 30], "nice": false}, "axis": {"values": [0,5,10,15,20,25,30], "title": "Budget"}},
 "y": {"field": "y", "type": "quantitative", "scale": {"domain": [-0.03, 0.64], "nice": false, "zero": false}, "axis": {"values": [0,0.1,0.2,0.3,0.4,0.5,0.6], "labelExpr": "datum.value === 0 ? '0' : format(datum.value, '.1f')", "title": null}},
 "fill": {"field": "m", "type": "nominal"}, "stroke": {"field": "m", "type": "nominal"}}},
{"data": {"name": "ann1"}, "mark": {"type": "text", "align": "right", "baseline": "middle", "fontSize": 10, "color": "#222222"}, "encoding": {
 "x": {"datum": 29.6, "type": "quantitative"},
 "y": {"datum": 0.565, "type": "quantitative"},
 "text": {"field": "t", "type": "nominal"}}}
]
},
{
"width": 185, "height": 187,
"title": {"text": "c", "anchor": "start", "font": "Lato", "fontSize": 15, "fontWeight": "bold", "color": "#111111", "offset": -7},
"data": {"name": "neg"},
"layer": [
{"mark": {"type": "errorband", "opacity": 0.25}, "encoding": {
 "x": {"field": "x", "type": "quantitative", "scale": {"domain": [0, 30], "nice": false}, "axis": {"values": [0,5,10,15,20,25,30], "title": "Budget"}},
 "y": {"field": "y", "type": "quantitative", "scale": {"domain": [-0.031, 0.637], "nice": false, "zero": false}, "axis": {"values": [0,0.1,0.2,0.3,0.4,0.5,0.6], "labelExpr": "datum.value === 0 ? '0' : format(datum.value, '.1f')", "title": "Simple regret"}},
 "yError": {"field": "e"},
 "fill": {"field": "m", "type": "nominal"}}},
{"mark": {"type": "line", "strokeWidth": 1.3}, "encoding": {
 "x": {"field": "x", "type": "quantitative", "scale": {"domain": [0, 30], "nice": false}, "axis": {"values": [0,5,10,15,20,25,30], "title": "Budget"}},
 "y": {"field": "y", "type": "quantitative", "scale": {"domain": [-0.031, 0.637], "nice": false, "zero": false}, "axis": {"values": [0,0.1,0.2,0.3,0.4,0.5,0.6], "labelExpr": "datum.value === 0 ? '0' : format(datum.value, '.1f')", "title": "Simple regret"}},
 "stroke": {"field": "m", "type": "nominal"},
 "strokeDash": {"field": "m", "type": "nominal"}}},
{"transform": [{"filter": "datum.m === 'MFEI' || datum.m === 'SFEI'"}], "mark": {"type": "point", "shape": "diamond", "filled": true, "size": 14, "strokeWidth": 0.8}, "encoding": {
 "x": {"field": "x", "type": "quantitative", "scale": {"domain": [0, 30], "nice": false}, "axis": {"values": [0,5,10,15,20,25,30], "title": "Budget"}},
 "y": {"field": "y", "type": "quantitative", "scale": {"domain": [-0.031, 0.637], "nice": false, "zero": false}, "axis": {"values": [0,0.1,0.2,0.3,0.4,0.5,0.6], "labelExpr": "datum.value === 0 ? '0' : format(datum.value, '.1f')", "title": "Simple regret"}},
 "fill": {"field": "m", "type": "nominal"}, "stroke": {"field": "m", "type": "nominal"}}},
{"transform": [{"filter": "datum.m === 'MFMES' || datum.m === 'SFMES'"}], "mark": {"type": "point", "shape": "circle", "filled": true, "size": 12, "strokeWidth": 0.8}, "encoding": {
 "x": {"field": "x", "type": "quantitative", "scale": {"domain": [0, 30], "nice": false}, "axis": {"values": [0,5,10,15,20,25,30], "title": "Budget"}},
 "y": {"field": "y", "type": "quantitative", "scale": {"domain": [-0.031, 0.637], "nice": false, "zero": false}, "axis": {"values": [0,0.1,0.2,0.3,0.4,0.5,0.6], "labelExpr": "datum.value === 0 ? '0' : format(datum.value, '.1f')", "title": "Simple regret"}},
 "fill": {"field": "m", "type": "nominal"}, "stroke": {"field": "m", "type": "nominal"}}},
{"transform": [{"filter": "datum.m === 'RND'"}], "mark": {"type": "point", "shape": "M-1,-1L1,1M1,-1L-1,1", "filled": true, "size": 12, "strokeWidth": 0.8}, "encoding": {
 "x": {"field": "x", "type": "quantitative", "scale": {"domain": [0, 30], "nice": false}, "axis": {"values": [0,5,10,15,20,25,30], "title": "Budget"}},
 "y": {"field": "y", "type": "quantitative", "scale": {"domain": [-0.031, 0.637], "nice": false, "zero": false}, "axis": {"values": [0,0.1,0.2,0.3,0.4,0.5,0.6], "labelExpr": "datum.value === 0 ? '0' : format(datum.value, '.1f')", "title": "Simple regret"}},
 "fill": {"field": "m", "type": "nominal"}, "stroke": {"field": "m", "type": "nominal"}}},
{"data": {"name": "ann2"}, "mark": {"type": "text", "align": "right", "baseline": "middle", "fontSize": 10, "color": "#222222"}, "encoding": {
 "x": {"datum": 29.6, "type": "quantitative"},
 "y": {"datum": 0.54, "type": "quantitative"},
 "text": {"field": "t", "type": "nominal"}}}
]
}
]}
]
}
],
"config": {
"font": "Inter",
"view": {"stroke": null},
"axis": {"grid": false, "labelFontSize": 9.5, "titleFontSize": 11.5, "titleFontWeight": "normal", "labelColor": "#333333", "titleColor": "#222222", "domainColor": "#555555", "tickColor": "#555555", "tickSize": 4, "labelPadding": 3, "titlePadding": 4},
"axisY": {"titlePadding": 10},
"title": {"fontSize": 11, "fontWeight": "normal", "color": "#222222", "offset": 9},
"legend": {"labelFontSize": 10.5, "labelColor": "#222222", "symbolOpacity": 1}
}
}
